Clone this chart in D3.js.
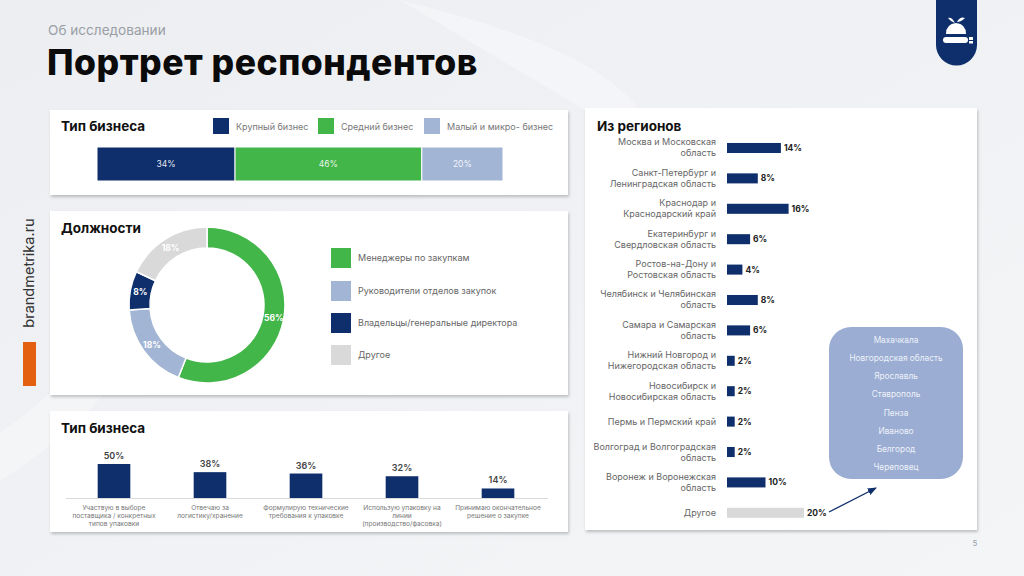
<!DOCTYPE html>
<html><head><meta charset="utf-8">
<script src="https://cdn.jsdelivr.net/npm/d3@7"></script>
<style>
html,body{margin:0;padding:0;background:#f1f2f4;}
svg{display:block;font-family:Inter,"Open Sans",sans-serif;}
</style></head>
<body>
<svg id="c" width="1024" height="576"></svg>
<script>
// ---- data ----
const bizTypes = ["Крупный бизнес", "Средний бизнес", "Малый и микро- бизнес"];
const bizShares = [34, 46, 20];
const roles = ["Менеджеры по закупкам", "Руководители отделов закупок", "Владельцы/генеральные директора", "Другое"];
const roleShares = [56, 18, 8, 18];
const tasks = [
  "Участвую в выборе\nпоставщика / конкретных\nтипов упаковки",
  "Отвечаю за\nлогистику/хранение",
  "Формулирую технические\nтребования к упаковке",
  "Использую упаковку на\nлинии\n(производство/фасовка)",
  "Принимаю окончательное\nрешение о закупке"
];
const taskShares = [50, 38, 36, 32, 14];
const regions = [
  "Москва и Московская\nобласть",
  "Санкт-Петербург и\nЛенинградская область",
  "Краснодар и\nКраснодарский край",
  "Екатеринбург и\nСвердловская область",
  "Ростов-на-Дону и\nРостовская область",
  "Челябинск и Челябинская\nобласть",
  "Самара и Самарская\nобласть",
  "Нижний Новгород и\nНижегородская область",
  "Новосибирск и\nНовосибирская область",
  "Пермь и Пермский край",
  "Волгоград и Волгоградская\nобласть",
  "Воронеж и Воронежская\nобласть",
  "Другое"
];
const regionShares = [14, 8, 16, 6, 4, 8, 6, 2, 2, 2, 2, 10, 20];
const otherCities = ["Махачкала", "Новгородская область", "Ярославль", "Ставрополь", "Пенза", "Иваново", "Белгород", "Череповец"];

// ---- styles ----
const NAVY = "#0e2f6b", GREEN = "#43b64a", LBLUE = "#a3b5d5", GRAY = "#d9d9d9";
const svg = d3.select("#c");
const defs = svg.append("defs");
const bg = defs.append("linearGradient").attr("id", "bg").attr("x1", 0).attr("y1", 0).attr("x2", 1).attr("y2", 1);
bg.append("stop").attr("offset", "0%").attr("stop-color", "#eceef1");
bg.append("stop").attr("offset", "100%").attr("stop-color", "#f4f5f7");
const sh = defs.append("filter").attr("id", "sh").attr("x", "-5%").attr("y", "-5%").attr("width", "110%").attr("height", "115%");
sh.append("feDropShadow").attr("dx", 1).attr("dy", 2).attr("stdDeviation", 1.6).attr("flood-color", "#000").attr("flood-opacity", 0.22);
const mk = defs.append("marker").attr("id", "arr").attr("viewBox", "0 0 10 10").attr("refX", 9).attr("refY", 5)
  .attr("markerWidth", 7).attr("markerHeight", 7).attr("orient", "auto");
mk.append("path").attr("d", "M0,1 L10,5 L0,9 Z").attr("fill", NAVY);

svg.append("rect").attr("width", 1024).attr("height", 576).attr("fill", "url(#bg)");
// subtle decorative curves
svg.append("path").attr("d", "M400,0 C520,30 600,60 640,110 L585,110 Z").attr("fill", "#f6f7f9").attr("opacity", 0.7);
svg.append("path").attr("d", "M-20,470 C60,420 100,380 140,300").attr("stroke", "#f8f9fa").attr("stroke-width", 40).attr("fill", "none").attr("opacity", 0.5);

// header
svg.append("text").attr("x", 48).attr("y", 35).attr("font-size", 13.6).attr("fill", "#9a9ea5").text("Об исследовании");
svg.append("text").attr("x", 47).attr("y", 75).attr("font-size", 35.5).attr("font-weight", 800).attr("fill", "#0b0b0b")
  .attr("letter-spacing", 0.5).text("Портрет респондентов");

// logo
svg.append("path").attr("d", "M936,0 L977,0 L977,45 A20.5,20.5 0 0 1 936,45 Z").attr("fill", NAVY);
const lg = svg.append("g").attr("fill", "#fff");
lg.append("path").attr("d", "M946,34 Q946,24 956,23 Q966,24 966,34 Z");
lg.append("path").attr("d", "M955,23 Q952,17 948,18 Q951,22 955,23 Z M957,22 Q960,16 965,18 Q961,22 957,22 Z");
lg.append("rect").attr("x", 943).attr("y", 37).attr("width", 25).attr("height", 6).attr("rx", 3);
lg.append("rect").attr("x", 969).attr("y", 37).attr("width", 4).attr("height", 3);
lg.append("rect").attr("x", 969).attr("y", 41).attr("width", 4).attr("height", 2.5);

// side brand
svg.append("text").attr("transform", "translate(34,273) rotate(-90)").attr("text-anchor", "middle")
  .attr("font-size", 14.5).attr("fill", "#333").text("brandmetrika.ru");
svg.append("rect").attr("x", 23).attr("y", 342).attr("width", 13).attr("height", 44).attr("fill", "#e2600f");

// page number
svg.append("text").attr("x", 975).attr("y", 546).attr("text-anchor", "middle").attr("font-size", 8).attr("fill", "#9a9ea5").text("5");

// panels
function panel(x, y, w, h) {
  svg.append("rect").attr("x", x).attr("y", y).attr("width", w).attr("height", h).attr("fill", "#fff").attr("filter", "url(#sh)");
}
function ptitle(x, y, t) {
  svg.append("text").attr("x", x).attr("y", y).attr("font-size", 13.5).attr("font-weight", 700).attr("fill", "#111").text(t);
}
panel(50, 110, 518, 85);
panel(50, 211, 518, 184);
panel(50, 411, 518, 121);
panel(585, 108, 392, 422);

// ---- Panel 1: stacked bar ----
ptitle(61, 131, "Тип бизнеса");
const bizColors = [NAVY, GREEN, LBLUE];
const legX = [213, 318, 424];
bizTypes.forEach((t, i) => {
  svg.append("rect").attr("x", legX[i]).attr("y", 118).attr("width", 16).attr("height", 16).attr("fill", bizColors[i]);
  svg.append("text").attr("x", legX[i] + 23).attr("y", 129.5).attr("font-size", 9).attr("fill", "#777").text(t);
});
const xs = d3.scaleLinear().domain([0, 100]).range([97, 503]);
let cum = 0;
const stack = bizShares.map((v, i) => { const s = { v, i, x0: cum, x1: cum + v }; cum += v; return s; });
const sg = svg.append("g");
sg.selectAll("rect").data(stack).join("rect")
  .attr("x", d => xs(d.x0)).attr("width", d => xs(d.x1) - xs(d.x0))
  .attr("y", 147).attr("height", 34).attr("fill", d => bizColors[d.i])
  .attr("stroke", "#fff").attr("stroke-width", 1);
sg.selectAll("text").data(stack).join("text")
  .attr("x", d => xs((d.x0 + d.x1) / 2)).attr("y", 167).attr("text-anchor", "middle")
  .attr("font-size", 8.5).attr("fill", "#fff").attr("fill-opacity", 0.9).text(d => d.v + "%");

// ---- Panel 2: donut ----
ptitle(61, 233, "Должности");
const roleColors = [GREEN, LBLUE, NAVY, GRAY];
const pie = d3.pie().sort(null).value(d => d)(roleShares);
const arc = d3.arc().innerRadius(57).outerRadius(78);
const lab = d3.arc().innerRadius(58).outerRadius(78);
const dg = svg.append("g").attr("transform", "translate(207,305)");
dg.selectAll("path").data(pie).join("path").attr("d", arc).attr("fill", (d, i) => roleColors[i])
  .attr("stroke", "#fff").attr("stroke-width", 1.5);
dg.selectAll("text").data(pie).join("text")
  .attr("transform", d => { const c = lab.centroid(d); return `translate(${c[0]},${c[1] + 3})`; })
  .attr("text-anchor", "middle").attr("font-size", 8.5).attr("font-weight", 700).attr("fill", "#fff")
  .text(d => d.data + "%");
const ly = [248, 281, 313, 345];
roles.forEach((t, i) => {
  svg.append("rect").attr("x", 331).attr("y", ly[i]).attr("width", 20).attr("height", 20).attr("fill", roleColors[i]);
  svg.append("text").attr("x", 358).attr("y", ly[i] + 13).attr("font-size", 9).attr("fill", "#666").text(t);
});

// ---- Panel 3: column chart ----
ptitle(61, 433, "Тип бизнеса");
const bx = d3.scaleBand().domain(tasks).range([66, 546]).paddingInner(0.66).paddingOuter(0.33);
const by = d3.scaleLinear().domain([0, 50]).range([498, 464]);
const cg = svg.append("g");
cg.append("line").attr("x1", 66).attr("x2", 548).attr("y1", 498.5).attr("y2", 498.5).attr("stroke", "#d9d9d9").attr("stroke-width", 1);
cg.selectAll("rect").data(tasks).join("rect")
  .attr("x", d => bx(d)).attr("width", bx.bandwidth())
  .attr("y", (d, i) => by(taskShares[i])).attr("height", (d, i) => 498 - by(taskShares[i])).attr("fill", NAVY);
cg.selectAll("text.v").data(tasks).join("text").attr("class", "v")
  .attr("x", d => bx(d) + bx.bandwidth() / 2).attr("y", (d, i) => by(taskShares[i]) - 5)
  .attr("text-anchor", "middle").attr("font-size", 9).attr("font-weight", 600).attr("fill", "#444")
  .text((d, i) => taskShares[i] + "%");
tasks.forEach(t => {
  const tx = cg.append("text").attr("x", bx(t) + bx.bandwidth() / 2).attr("y", 510)
    .attr("text-anchor", "middle").attr("font-size", 6.6).attr("fill", "#777");
  t.split("\n").forEach((l, j) => tx.append("tspan").attr("x", bx(t) + bx.bandwidth() / 2).attr("dy", j ? 8 : 0).text(l));
});

// ---- Panel 4: regions ----
ptitle(597, 131, "Из регионов");
const ry = d3.scaleBand().domain(regions).range([122.6, 538.2]).padding(0.67);
const rx = d3.scaleLinear().domain([0, 20]).range([727, 804]);
const rg = svg.append("g");
rg.selectAll("rect").data(regions).join("rect")
  .attr("x", rx(0)).attr("y", d => ry(d)).attr("height", ry.bandwidth())
  .attr("width", (d, i) => rx(regionShares[i]) - rx(0))
  .attr("fill", (d, i) => i === regions.length - 1 ? GRAY : NAVY);
rg.selectAll("text.v").data(regions).join("text").attr("class", "v")
  .attr("x", (d, i) => rx(regionShares[i]) + 3).attr("y", d => ry(d) + ry.bandwidth() / 2 + 3)
  .attr("font-size", 8.5).attr("font-weight", 700).attr("fill", "#222")
  .text((d, i) => regionShares[i] + "%");
regions.forEach(r => {
  const lines = r.split("\n");
  const cy = ry(r) + ry.bandwidth() / 2;
  const tx = rg.append("text").attr("text-anchor", "end").attr("font-size", 9).attr("fill", "#666");
  lines.forEach((l, j) => tx.append("tspan").attr("x", 716).attr("y", cy + 3 + (j - (lines.length - 1) / 2) * 11).text(l));
});

// other cities box
svg.append("rect").attr("x", 829).attr("y", 327).attr("width", 134).attr("height", 152).attr("rx", 22).attr("fill", "#9badd2");
const cy0 = d3.scalePoint().domain(otherCities).range([340, 467]);
svg.append("g").selectAll("text").data(otherCities).join("text")
  .attr("x", 896).attr("y", d => cy0(d) + 3).attr("text-anchor", "middle")
  .attr("font-size", 8.3).attr("fill", "#eef2fa").text(d => d);
svg.append("line").attr("x1", 829).attr("y1", 512).attr("x2", 876).attr("y2", 488)
  .attr("stroke", NAVY).attr("stroke-width", 1.3).attr("marker-end", "url(#arr)");
</script>
</body></html>
